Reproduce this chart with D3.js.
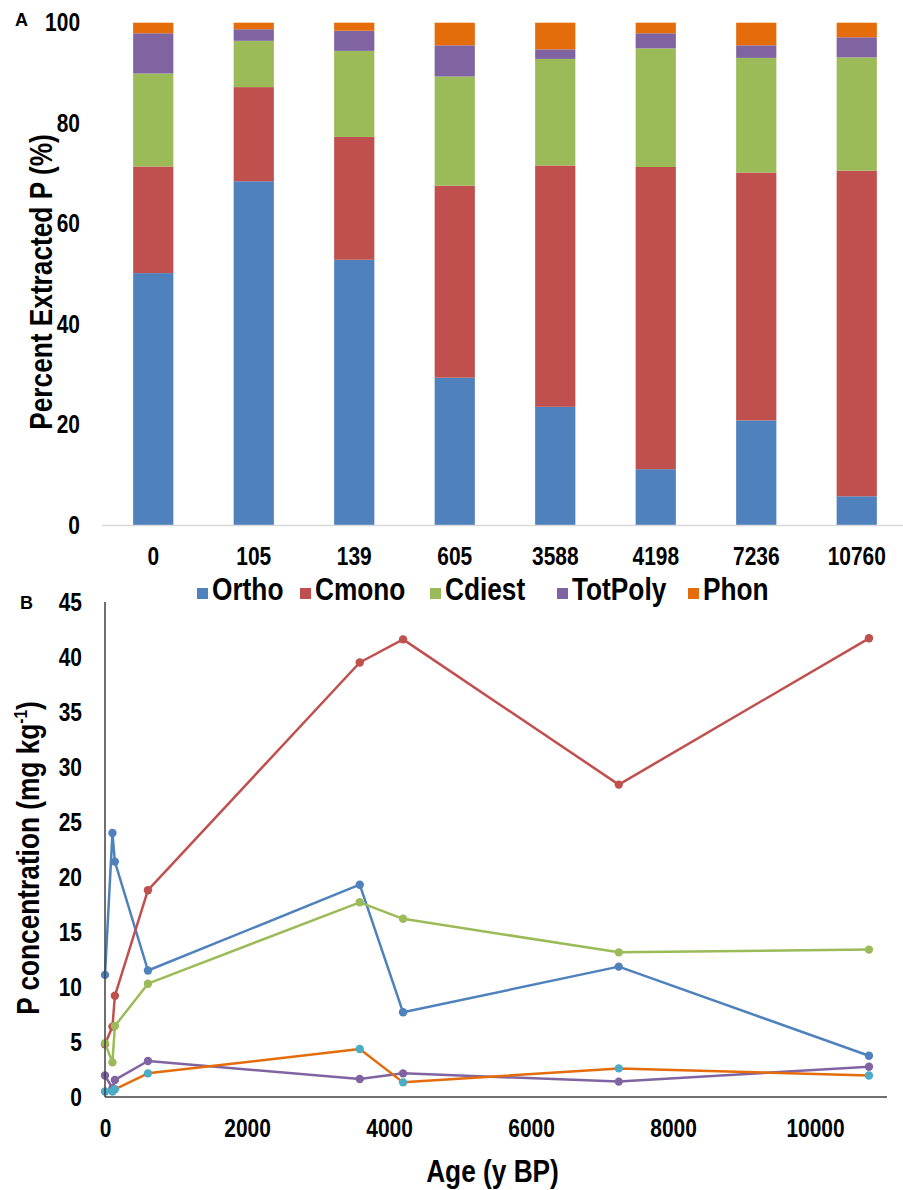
<!DOCTYPE html>
<html>
<head>
<meta charset="utf-8">
<script src="https://cdn.jsdelivr.net/npm/d3@7"></script>
<style>
  body { margin: 0; background: #fff; }
  svg { display: block; }
  text { font-family: "Liberation Sans", Arial, sans-serif; fill: #000; }
</style>
</head>
<body>
<svg id="fig" width="903" height="1190"></svg>
<script>
// ---- data ----
const ageLabels = ["0", "105", "139", "605", "3588", "4198", "7236", "10760"];
const ageYears = [0, 105, 139, 605, 3588, 4198, 7236, 10760];
const seriesNames = ["Ortho", "Cmono", "Cdiest", "TotPoly", "Phon"];
const seriesColors = ["#4f81bd", "#c0504d", "#9bbb59", "#8064a2", "#e46c0a"];
const phonMarkerColor = "#4bacc6";

// Panel A: share of extracted P (%)
const pctOrtho   = [50.1, 68.3, 52.7, 29.3, 23.5, 11.1, 20.8, 5.7];
const pctCmono   = [21.2, 18.7, 24.4, 38.2, 48.0, 60.1, 49.3, 64.7];
const pctCdiest  = [18.5, 9.2, 17.1, 21.7, 21.2, 23.6, 22.8, 22.5];
const pctTotPoly = [8.0, 2.3, 4.0, 6.2, 1.9, 3.0, 2.5, 4.0];
const pctPhon    = [2.1, 1.3, 1.6, 4.5, 5.3, 2.1, 4.5, 2.9];

// Panel B: P concentration (mg/kg)
const concOrtho   = [11.1, 24.0, 21.4, 11.5, 19.3, 7.7, 11.85, 3.75];
const concCmono   = [4.8, 6.4, 9.2, 18.8, 39.5, 41.6, 28.4, 41.7];
const concCdiest  = [4.9, 3.15, 6.45, 10.3, 17.7, 16.2, 13.15, 13.4];
const concTotPoly = [1.95, 0.8, 1.55, 3.27, 1.64, 2.15, 1.4, 2.75];
const concPhon    = [0.5, 0.5, 0.7, 2.15, 4.36, 1.33, 2.6, 1.95];

const yTicksA = [0, 20, 40, 60, 80, 100];
const yTicksB = [0, 5, 10, 15, 20, 25, 30, 35, 40, 45];
const xTicksB = [0, 2000, 4000, 6000, 8000, 10000];

// ---- helpers ----
const NARROW = 0.82;
function narrow(sel, f = NARROW) {
  sel.each(function () {
    const len = this.getComputedTextLength();
    this.setAttribute("textLength", len * f);
    this.setAttribute("lengthAdjust", "spacingAndGlyphs");
  });
}

const svg = d3.select("#fig");
svg.append("rect").attr("width", 903).attr("height", 1190).attr("fill", "#fff");

// =========================== Panel A ===========================
const gA = svg.append("g");
const xA = d3.scaleBand().domain(ageLabels).range([103, 907]).paddingInner(0.6).paddingOuter(0.3);
const yA = d3.scaleLinear().domain([0, 100]).range([525, 22.7]);

const pctRows = ageLabels.map((a, i) => ({
  age: a,
  Ortho: pctOrtho[i], Cmono: pctCmono[i], Cdiest: pctCdiest[i],
  TotPoly: pctTotPoly[i], Phon: pctPhon[i]
}));
const stacked = d3.stack().keys(seriesNames).offset(d3.stackOffsetExpand)(pctRows);

gA.append("g").selectAll("g")
  .data(stacked)
  .join("g")
  .attr("fill", (d, i) => seriesColors[i])
  .selectAll("rect")
  .data(d => d)
  .join("rect")
  .attr("x", d => xA(d.data.age))
  .attr("width", xA.bandwidth())
  .attr("y", d => yA(d[1] * 100))
  .attr("height", d => yA(d[0] * 100) - yA(d[1] * 100));

// baseline
gA.append("line")
  .attr("x1", 102).attr("x2", 903)
  .attr("y1", yA(0) + 0.5).attr("y2", yA(0) + 0.5)
  .attr("stroke", "#d9d9d9").attr("stroke-width", 1.5);

const axAy = gA.append("g").attr("transform", "translate(103,0)")
  .call(d3.axisLeft(yA).tickValues(yTicksA).tickSize(0).tickPadding(23));
axAy.select(".domain").remove();
axAy.selectAll("text").attr("font-size", 25.5).attr("font-weight", "bold")
  .attr("font-family", '"Liberation Sans", Arial, sans-serif').call(narrow);

const axAx = gA.append("g").attr("transform", `translate(0,${yA(0)})`)
  .call(d3.axisBottom(xA).tickSize(0).tickPadding(22));
axAx.select(".domain").remove();
axAx.selectAll("text").attr("font-size", 25.5).attr("font-weight", "bold")
  .attr("font-family", '"Liberation Sans", Arial, sans-serif').call(narrow);

// y title A
gA.append("text")
  .attr("transform", "translate(51.5,282) rotate(-90)")
  .attr("text-anchor", "middle")
  .attr("font-size", 32).attr("font-weight", "bold")
  .text("Percent Extracted P (%)").call(narrow);

// panel letter
svg.append("text").attr("x", 15).attr("y", 26).attr("font-size", 18).attr("font-weight", "bold").text("A");
svg.append("text").attr("x", 20).attr("y", 609).attr("font-size", 18).attr("font-weight", "bold").text("B");

// legend
const legendX = [197, 300, 430, 557, 688];
const legend = svg.append("g");
seriesNames.forEach((name, i) => {
  legend.append("rect").attr("x", legendX[i]).attr("y", 588).attr("width", 11).attr("height", 11)
    .attr("fill", seriesColors[i]);
  legend.append("text").attr("x", legendX[i] + 15).attr("y", 600)
    .attr("font-size", 32).attr("font-weight", "bold").text(name).call(narrow);
});

// =========================== Panel B ===========================
const gB = svg.append("g");
const xB = d3.scaleLinear().domain([0, 11000]).range([105, 886]);
const yB = d3.scaleLinear().domain([0, 45]).range([1097, 602]);

const concSeries = [concOrtho, concCmono, concCdiest, concTotPoly, concPhon];
const line = d3.line().x(d => xB(d[0])).y(d => yB(d[1]));

concSeries.forEach((vals, i) => {
  const pts = ageYears.map((a, j) => [a, vals[j]]);
  const s = gB.append("g");
  s.append("path").attr("d", line(pts)).attr("fill", "none")
    .attr("stroke", seriesColors[i]).attr("stroke-width", 2.5).attr("stroke-linejoin", "round");
  s.selectAll("circle").data(pts).join("circle")
    .attr("cx", d => xB(d[0])).attr("cy", d => yB(d[1])).attr("r", 4.2)
    .attr("fill", i === 4 ? phonMarkerColor : seriesColors[i]);
});

// axis lines
gB.append("line").attr("x1", 105).attr("x2", 105).attr("y1", 602).attr("y2", 1097)
  .attr("stroke", "#404040").attr("stroke-width", 1.5);
gB.append("line").attr("x1", 105).attr("x2", 887).attr("y1", 1097).attr("y2", 1097)
  .attr("stroke", "#404040").attr("stroke-width", 1.5);

const axBy = gB.append("g").attr("transform", "translate(105,0)")
  .call(d3.axisLeft(yB).tickValues(yTicksB).tickSize(0).tickPadding(23));
axBy.select(".domain").remove();
axBy.selectAll("text").attr("font-size", 25.5).attr("font-weight", "bold")
  .attr("font-family", '"Liberation Sans", Arial, sans-serif').call(narrow);

const axBx = gB.append("g").attr("transform", "translate(0,1097)")
  .call(d3.axisBottom(xB).tickValues(xTicksB).tickFormat(d3.format("d")).tickSize(0).tickPadding(22));
axBx.select(".domain").remove();
axBx.selectAll("text").attr("font-size", 25.5).attr("font-weight", "bold")
  .attr("font-family", '"Liberation Sans", Arial, sans-serif').call(narrow);

// titles B
const tB = gB.append("text")
  .attr("transform", "translate(39,858) rotate(-90)")
  .attr("text-anchor", "middle")
  .attr("font-size", 32).attr("font-weight", "bold");
tB.append("tspan").text("P concentration (mg kg");
tB.append("tspan").attr("font-size", 19).attr("dy", -12).text("-1");
tB.append("tspan").attr("dy", 12).text(")");
tB.call(narrow);

gB.append("text").attr("x", 492.5).attr("y", 1182).attr("text-anchor", "middle")
  .attr("font-size", 32).attr("font-weight", "bold").text("Age (y BP)").call(narrow);
</script>
</body>
</html>
